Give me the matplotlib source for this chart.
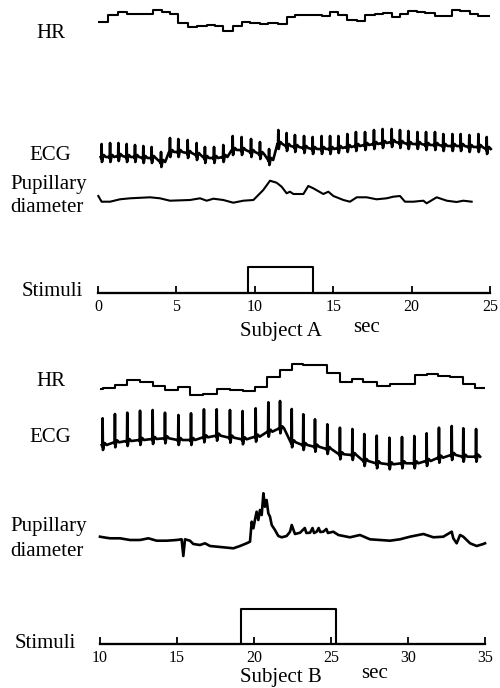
import numpy as np
import matplotlib
matplotlib.use("Agg")
import matplotlib.pyplot as plt

plt.rcParams['font.family'] = ['Liberation Serif', 'DejaVu Serif']

# ---------------- Subject A (0-25 s) ----------------
# heart rate, step levels (a.u., higher = faster) starting at these times
hr_a_t = [0, 0.66, 1.30, 1.83, 3.53, 4.06, 4.59, 5.12, 5.76, 6.29, 6.93, 7.46, 7.99,
          8.63, 9.16, 9.69, 10.33, 10.86, 11.50, 12.03, 12.56, 14.27, 14.80, 15.33,
          15.86, 16.50, 17.03, 17.67, 18.20, 18.73, 19.26, 19.79, 20.32, 20.85, 21.49,
          22.56, 23.09, 23.72, 24.25]
hr_a = [18.5, 25, 28.3, 26, 30, 28.3, 26, 17.3, 12.7, 14, 15.3, 14.3, 9.3, 14, 18,
        16.7, 16, 17.3, 16, 23.3, 25, 24, 28, 25, 20, 19, 25, 26, 26.7, 22.7, 26, 29.3,
        28, 26.7, 24, 30, 29.3, 26, 24]

# ECG: R-peak times, baseline level and R amplitude per beat
ecg_a_t = [0.23, 0.77, 1.30, 1.83, 2.36, 2.89, 3.42, 4.02, 4.59, 5.12, 5.72, 6.29,
           6.82, 7.40, 7.99, 8.59, 9.16, 9.76, 10.33, 10.91, 11.50, 12.03, 12.56, 13.14,
           13.69, 14.26, 14.80, 15.33, 15.90, 16.45, 17.03, 17.60, 18.15, 18.73, 19.26,
           19.79, 20.37, 20.92, 21.49, 22.02, 22.60, 23.13, 23.68, 24.26, 24.79]
ecg_a_base = [13, 13, 14, 13, 13, 12, 12, 8, 18, 18, 17, 15, 12, 12, 13, 20, 20, 18,
              16, 10, 26, 24, 23, 22, 21, 21, 21, 22, 23, 24, 25, 26, 27, 28, 27, 26,
              26, 25, 25, 24, 24, 24, 23, 23, 21]
ecg_a_r = [13, 14, 13, 13, 12, 12, 11, 10, 14, 13, 13, 12, 11, 11, 12, 14, 13, 13,
           12, 11, 14, 13, 12, 12, 12, 13, 13, 12, 13, 14, 13, 14, 14, 13, 13, 13,
           12, 13, 13, 12, 12, 12, 12, 13, 12]

# pupillary diameter (a.u.)
pup_a_t = [0.02, 0.23, 0.77, 1.40, 2.04, 3.32, 3.95, 4.59, 5.87, 6.51, 6.93, 7.36,
           7.99, 8.63, 9.27, 9.91, 10.12, 10.54, 10.97, 11.39, 11.71, 12.03, 12.24,
           12.46, 13.10, 13.41, 13.73, 14.37, 14.69, 15.01, 15.65, 16.07, 16.50, 17.13,
           17.77, 18.41, 18.83, 19.26, 19.58, 20.11, 20.75, 20.96, 21.60, 22.24, 22.87,
           23.30, 23.83]
pup_a = [14, 8.3, 8.3, 10.7, 11.7, 12.7, 11.7, 9.3, 10, 11.7, 9.3, 11.3, 10, 7.3, 9.3,
         10, 13.3, 20, 29.3, 27.3, 23.3, 16.7, 18.3, 16, 16, 24, 21.7, 16, 18.3, 14, 10,
         8.3, 12.7, 12.7, 10.7, 11.7, 13.3, 14, 8.3, 8.3, 9.3, 6.7, 12.7, 9.3, 8, 9.3, 8.3]

stim_a = (9.57, 13.7)

# ---------------- Subject B (10-35 s) ----------------
hr_b_t = [10.0, 10.22, 10.97, 11.73, 12.60, 13.46, 14.22, 15.09, 15.84, 16.71, 17.58,
          18.44, 19.31, 20.06, 20.82, 21.69, 22.45, 23.20, 23.96, 24.72, 25.58, 26.34,
          27.10, 27.97, 28.83, 29.59, 30.45, 31.21, 31.97, 32.73, 33.59, 34.35]
hr_b = [10.7, 11.7, 15, 20, 17.7, 14, 10, 13.3, 5, 6, 11, 10, 9, 13.3, 23.3, 30, 36,
        35.3, 35, 26.7, 18.3, 20.7, 17.7, 14.3, 16, 16, 25, 25.7, 24.3, 23.3, 16, 11.7]

ecg_b_t = [10.17, 10.97, 11.77, 12.60, 13.42, 14.22, 15.09, 15.91, 16.75, 17.58, 18.44,
           19.26, 20.11, 20.93, 21.69, 22.45, 23.20, 23.96, 24.76, 25.58, 26.39, 27.16,
           27.97, 28.79, 29.61, 30.41, 31.21, 32.01, 32.84, 33.59, 34.42]
ecg_b_base = [25, 27.7, 29, 30, 31, 31.7, 30, 30, 32.7, 34.3, 32.3, 30.7, 33.3, 38.3,
              41.7, 27.7, 25, 23.3, 21, 15.7, 15, 9, 6.7, 5.7, 6.7, 6.7, 9, 12.3, 15,
              13.3, 13.3]
ecg_b_top = [51.7, 56, 57.3, 59.3, 60, 57.3, 55, 56.7, 60.7, 60.7, 60, 59, 61.7, 67.7,
             69, 61, 55.7, 50.7, 45.7, 42.3, 41, 36, 34.3, 32.3, 33, 34, 36.7, 42.3,
             44, 41.7, 41]

pup_b_t = [10.0, 10.22, 10.65, 11.30, 11.95, 12.60, 13.14, 13.68, 14.33, 14.98, 15.30,
           15.41, 15.52, 15.84, 16.06, 16.49, 16.82, 17.14, 18.01, 18.66, 19.09, 19.52,
           19.74, 19.85, 19.96, 20.06, 20.17, 20.28, 20.39, 20.50, 20.61, 20.71, 20.82,
           20.93, 21.04, 21.15, 21.36, 21.58, 21.80, 22.12, 22.34, 22.45, 22.66, 22.99,
           23.3, 23.4, 23.64, 23.8, 23.9, 24.07, 24.2, 24.3, 24.50, 24.7, 24.8,
           25.15, 25.48, 26.23, 26.88, 27.53, 28.18, 28.83, 29.48, 30.13, 31.00, 31.65,
           32.29, 32.84, 32.94, 33.16, 33.38, 33.59, 34.03, 34.46, 34.89, 35.0]
pup_b = [23.3, 22.7, 21.7, 21.7, 20, 20, 21.7, 19.3, 19.3, 20, 20.7, 4, 20.7, 19.3, 16,
         15, 16.7, 14, 12.7, 11.7, 14, 16.7, 18.3, 38.3, 31.7, 40, 48.3, 40, 50, 45,
         66.7, 53.3, 60, 46.7, 43.3, 35, 30, 24, 22.7, 24, 28.3, 35, 26, 27.3, 32, 27,
         27.3, 32, 27, 28.3, 32, 28, 28.3, 31, 27, 28.3, 25, 22.7, 25, 20.7, 20, 19.3,
         20.7, 23.3, 26, 22.7, 23.3, 28.3, 21.7, 16.7, 25, 23.3, 16.7, 14, 16, 16.7]

stim_b = (19.15, 25.3)

# ---------------- drawing ----------------
W, H = 500, 688
fig = plt.figure(figsize=(5, 6.88), dpi=100)
LW = 1.5


def strip(x0, x1, r0, r1, tlim, ymax=None):
    ax = fig.add_axes([x0 / W, 1 - r1 / H, (x1 - x0) / W, (r1 - r0) / H])
    ax.set_xlim(*tlim)
    ax.set_ylim(0, ymax if ymax else r1 - r0)
    ax.patch.set_alpha(0)
    ax.axis('off')
    return ax


def ecg_trace(beats, base, top, s=5):
    # simple QRS-T shape around each listed beat
    t, y = [], []
    for b, lo, hi in zip(beats, base, top):
        t += [b - 0.06, b - 0.02, b, b + 0.02, b + 0.04, b + 0.08, b + 0.14,
              b + 0.2, b + 0.26]
        y += [lo, lo - 1.5, hi, lo - s, lo - s + 1, lo, lo + 2, lo + 1, lo]
    return t, y


def panel(x0, x1, tlim, rows, hr, ecg, pup, stim, box_px, ticks, subject,
          labels_y, sub_y, sec_x, pup_lw):
    (hr_r, ecg_r, pup_r, st_r) = rows
    ax = strip(x0, x1, *hr_r, tlim)
    ht, hv = hr
    ax.step(list(ht) + [tlim[1]], list(hv) + [hv[-1]], where='post', color='k', lw=LW)

    ax = strip(x0, x1, *ecg_r, tlim)
    et, ev = ecg_trace(*ecg)
    ax.plot(et, ev, color='k', lw=1.9, clip_on=False)

    ax = strip(x0, x1, *pup_r, tlim)
    ax.plot(*pup, color='k', lw=pup_lw, clip_on=False)

    r0, r1 = st_r
    ax = strip(x0, x1, r0, r1, tlim, ymax=(r1 - r0) / box_px)
    ax.axis('on')
    for side in ['top', 'right', 'left']:
        ax.spines[side].set_visible(False)
    ax.spines['bottom'].set_linewidth(1.6)
    ax.set_yticks([])
    ax.set_xticks(ticks)
    ax.tick_params(axis='x', direction='in', length=5, width=1.3, pad=4, labelsize=11.5)
    on, off = stim
    ax.plot([tlim[0], on, on, off, off, tlim[1]], [0, 0, 1, 1, 0, 0],
            color='k', lw=LW, clip_on=False)

    fs = 15
    hy, ey, py1, py2, sy = labels_y
    fig.text(36 / W, 1 - hy / H, 'HR', fontsize=fs, va='center', ha='left')
    fig.text(29 / W, 1 - ey / H, 'ECG', fontsize=fs, va='center', ha='left')
    fig.text(10 / W, 1 - py1 / H, 'Pupillary', fontsize=fs, va='center', ha='left')
    fig.text(10 / W, 1 - py2 / H, 'diameter', fontsize=fs, va='center', ha='left')
    fig.text(sy[0] / W, 1 - sy[1] / H, 'Stimuli', fontsize=fs, va='center', ha='left')
    fig.text(281 / W, 1 - sub_y / H, subject, fontsize=fs, va='center', ha='center')
    fig.text(sec_x / W, 1 - (sub_y - 4) / H, 'sec', fontsize=fs, va='center', ha='center')


panel(98, 490, (0, 25),
      [(0, 40), (120, 170), (170, 210), (260, 293)],
      (hr_a_t, hr_a), (ecg_a_t, ecg_a_base, [b + r for b, r in zip(ecg_a_base, ecg_a_r)]),
      (pup_a_t, pup_a), stim_a, 26, [0, 5, 10, 15, 20, 25], 'Subject A',
      (33, 155, 185, 208, (22, 292)), 331, 367, LW)

panel(100, 485, (10, 35),
      [(355, 400), (395, 470), (480, 560), (600, 644)],
      (hr_b_t, hr_b), (ecg_b_t, ecg_b_base, ecg_b_top),
      (pup_b_t, pup_b), stim_b, 35, [10, 15, 20, 25, 30, 35], 'Subject B',
      (382, 437, 527, 552, (15, 643)), 677.5, 375, 1.9)

fig.savefig('out.png', dpi=100)
